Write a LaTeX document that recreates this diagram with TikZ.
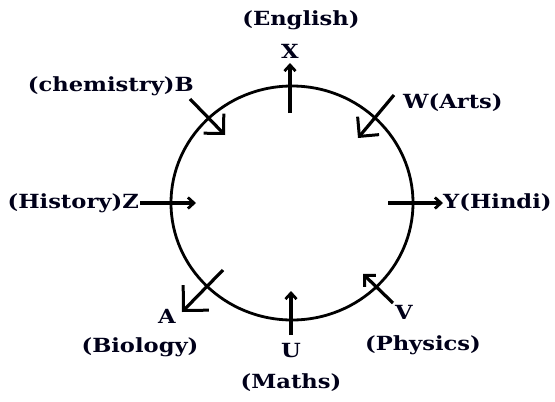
\documentclass[tikz,border=0pt]{standalone}
\usepackage{fontspec}
\setmainfont{DejaVu Serif}[FakeStretch=1.16]
\usetikzlibrary{arrows.meta}
\tikzset{
  lbl/.style={inner sep=0pt, font=\fontsize{19.5}{21}\selectfont\bfseries, text=black!90!blue},
  smallarr/.style={line width=3.2pt, -{Straight Barb[length=6pt,width=11pt,line width=2.8pt]}},
  bigarr/.style={line width=3.2pt, -{Straight Barb[length=14pt,width=28pt,line width=3pt]}},
  hugearr/.style={line width=3.2pt, -{Straight Barb[length=18pt,width=36pt,line width=3pt]}},
  midarr/.style={line width=3.2pt, -{Straight Barb[length=8pt,width=16pt,line width=3pt]}},
  ring/.style={line width=2.8pt}
}
\begin{document}
\begin{tikzpicture}[x=1pt,y=-1pt]
\useasboundingbox (0,0) rectangle (555,402);
\draw[ring] (292,203) ellipse [x radius=121, y radius=117];
% arrow end points
\coordinate (xs) at (290,113); \coordinate (xe) at (290,63);
\coordinate (zs) at (140,203); \coordinate (ze) at (196,203);
\coordinate (ys) at (388,203); \coordinate (ye) at (443,203);
\coordinate (bs) at (190,99);  \coordinate (be) at (225,135);
\coordinate (ws) at (394,95);  \coordinate (we) at (358,138);
\coordinate (as) at (223,270); \coordinate (ae) at (182,312);
\coordinate (us) at (291,335); \coordinate (ue) at (291,291);
\coordinate (vs) at (393,303); \coordinate (ve) at (363,274);
\draw[smallarr] (xs) -- (xe);
\draw[smallarr] (zs) -- (ze);
\draw[smallarr] (ys) -- (ye);
\draw[smallarr] (us) -- (ue);
\draw[bigarr] (bs) -- (be);
\draw[bigarr] (ws) -- (we);
\draw[hugearr] (as) -- (ae);
\draw[midarr] (vs) -- (ve);
% labels
\node[lbl] (eng) at (301,20) {(English)};
\node[lbl] (x) at (290,51) {X};
\node[lbl,anchor=east] (chem) at (194,86) {(chemistry)B};
\node[lbl,anchor=west] (arts) at (403,103) {W(Arts)};
\node[lbl,anchor=east] (hist) at (139,203) {(History)Z};
\node[lbl,anchor=west] (hindi) at (443,203) {Y(Hindi)};
\node[lbl] (a) at (167,316) {A};
\node[lbl] (bio) at (140,347) {(Biology)};
\node[lbl] (u) at (291,351) {U};
\node[lbl] (maths) at (291,383) {(Maths)};
\node[lbl] (v) at (404,312) {V};
\node[lbl] (phys) at (423,345) {(Physics)};
\end{tikzpicture}
\end{document}
